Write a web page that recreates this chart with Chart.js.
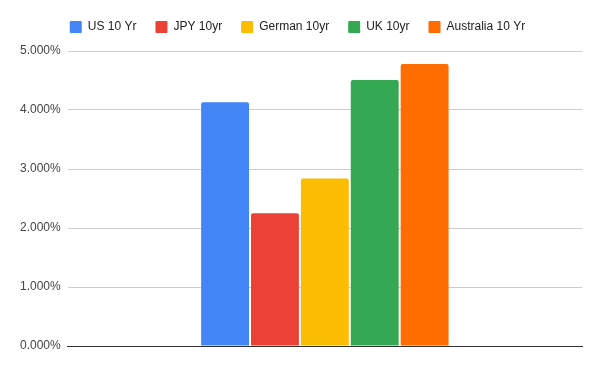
<!DOCTYPE html>
<html>
<head>
<meta charset="utf-8">
<script src="https://cdn.jsdelivr.net/npm/chart.js@4"></script>
<style>
  body { margin: 0; background: #fff; }
  #wrap { width: 600px; height: 371px; }
</style>
</head>
<body>
<div id="wrap"><canvas id="yieldChart" width="600" height="371"></canvas></div>
<script>
const categories = [''];
const seriesNames = ['US 10 Yr', 'JPY 10yr', 'German 10yr', 'UK 10yr', 'Australia 10 Yr'];
const seriesValues = [4.13, 2.25, 2.84, 4.51, 4.78];
const seriesColors = ['#4285F4', '#EA4335', '#FBBC04', '#34A853', '#FF6D01'];
const yTicks = [0, 1, 2, 3, 4, 5];

const fontFamily = 'Arial, "Liberation Sans", sans-serif';

const datasets = seriesNames.map((name, i) => ({
    label: name,
    data: [seriesValues[i]],
    backgroundColor: seriesColors[i],
    borderWidth: 0,
    borderRadius: 2,
    barPercentage: 0.96,
    categoryPercentage: 0.485
}));

// extra room under the legend, like the sheets chart
const legendGap = {
    id: 'legendGap',
    beforeInit(chart) {
        const fit = chart.legend.fit;
        chart.legend.fit = function () {
            fit.bind(chart.legend)();
            this.height += 8;
        };
    }
};

new Chart(document.getElementById('yieldChart'), {
    type: 'bar',
    data: {
        labels: categories,
        datasets: datasets
    },
    options: {
        responsive: false,
        animation: false,
        layout: {
            padding: { top: 2, right: 18, bottom: 25, left: 13 }
        },
        plugins: {
            legend: {
                position: 'top',
                align: 'center',
                labels: {
                    boxWidth: 12,
                    boxHeight: 12,
                    padding: 19,
                    color: '#222',
                    font: { family: fontFamily, size: 12 },
                    useBorderRadius: true,
                    borderRadius: 1
                }
            },
            tooltip: { enabled: false }
        },
        scales: {
            x: {
                grid: { display: false, drawTicks: false },
                ticks: { display: false },
                border: { display: true, color: '#333', width: 1 }
            },
            y: {
                min: yTicks[0],
                max: yTicks[yTicks.length - 1],
                afterBuildTicks: axis => {
                    axis.ticks = yTicks.map(v => ({ value: v }));
                },
                grid: {
                    drawTicks: false,
                    color: ctx => ctx.tick && ctx.tick.value === 0 ? '#333' : '#ccc'
                },
                border: { display: false },
                ticks: {
                    padding: 7,
                    color: '#444',
                    font: { family: fontFamily, size: 12 },
                    callback: v => v.toFixed(3) + '%'
                }
            }
        }
    },
    plugins: [legendGap]
});
</script>
</body>
</html>
